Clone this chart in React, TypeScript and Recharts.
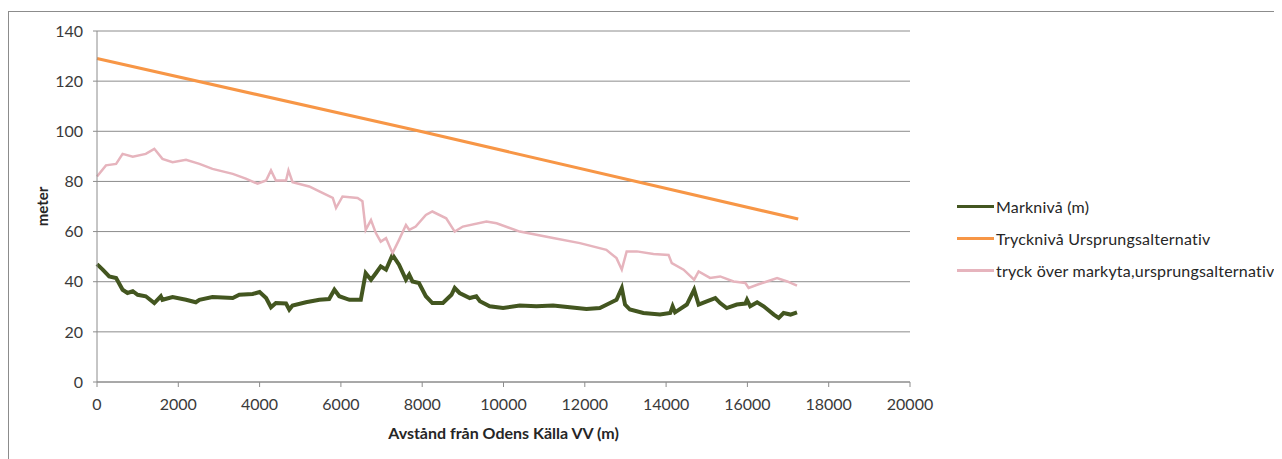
import { LineChart, Line, XAxis, YAxis, CartesianGrid, Legend, Label } from "recharts"

// Marknivå (m)
const groundDist = [0, 140, 300, 470, 630, 750, 880, 1000, 1200, 1410, 1570, 1610, 1860, 2190, 2430, 2520, 2840, 3340, 3500, 3830, 4000, 4160, 4280, 4400, 4650, 4730, 4810, 5140, 5470, 5710, 5840, 5960, 6210, 6490, 6610, 6740, 6860, 6980, 7110, 7270, 7430, 7600, 7680, 7760, 7920, 8090, 8250, 8510, 8720, 8800, 8920, 9170, 9330, 9420, 9660, 9990, 10400, 10810, 11220, 11630, 12040, 12370, 12620, 12780, 12910, 12990, 13110, 13440, 13850, 14100, 14160, 14220, 14510, 14690, 14800, 15000, 15210, 15330, 15490, 15740, 15950, 15990, 16070, 16240, 16400, 16650, 16770, 16890, 17060, 17220]
const groundLevel = [47, 44.8, 42.1, 41.5, 36.8, 35.5, 36.2, 34.8, 34.2, 31.5, 34.2, 32.8, 33.9, 32.8, 31.8, 32.8, 33.9, 33.5, 34.8, 35.1, 35.9, 33.5, 29.8, 31.5, 31.3, 28.9, 30.5, 31.8, 32.8, 33.1, 36.8, 34.2, 32.8, 32.8, 43.4, 40.8, 43.4, 46.1, 44.8, 50.7, 46.8, 40.8, 42.8, 40.1, 39.5, 34.2, 31.5, 31.5, 34.8, 37.5, 35.5, 33.5, 34.2, 32.2, 30.2, 29.5, 30.5, 30.2, 30.5, 29.8, 29.1, 29.5, 31.5, 32.8, 37.5, 30.9, 28.9, 27.5, 26.9, 27.5, 30.2, 27.8, 30.9, 36.8, 30.9, 32.2, 33.5, 31.5, 29.5, 30.9, 31.3, 32.8, 30.2, 31.8, 30.2, 26.9, 25.6, 27.5, 26.9, 27.8]

// Trycknivå Ursprungsalternativ
const pressureDist = [0, 7950, 17250]
const pressureLevel = [129, 100, 65]

// tryck över markyta, ursprungsalternativ
const aboveDist = [0, 220, 470, 630, 880, 1200, 1410, 1610, 1860, 2190, 2520, 2840, 3340, 3660, 3950, 4160, 4280, 4400, 4650, 4710, 4810, 5220, 5470, 5800, 5880, 6040, 6410, 6530, 6610, 6740, 6860, 6980, 7110, 7270, 7430, 7600, 7680, 7840, 8090, 8250, 8590, 8800, 9000, 9580, 9830, 10400, 11220, 11880, 12530, 12780, 12910, 13030, 13280, 13690, 14060, 14140, 14430, 14690, 14800, 15080, 15330, 15660, 15950, 16030, 16240, 16480, 16730, 16980, 17220]
const aboveLevel = [82, 86.4, 87, 91, 89.9, 91, 93, 89, 87.7, 88.6, 87, 85, 83, 81.1, 79.1, 80.4, 84.4, 80.4, 80.4, 84.4, 79.7, 78, 76, 73.4, 69.4, 74, 73.4, 72.1, 60.7, 64.6, 59.4, 56, 57.4, 51.4, 56.7, 62.6, 60.7, 62, 66.6, 68, 65.3, 60, 62, 64, 63.3, 60, 57.4, 55.4, 52.7, 49.4, 44.8, 52.1, 52.1, 51.1, 50.7, 47.4, 44.8, 40.8, 44.1, 41.5, 42.1, 40.1, 39.5, 37.5, 38.8, 40.1, 41.5, 40.1, 38.4]

const xTicks = [0, 2000, 4000, 6000, 8000, 10000, 12000, 14000, 16000, 18000, 20000]
const yTicks = [0, 20, 40, 60, 80, 100, 120, 140]

const toPoints = (xs: number[], ys: number[]) => xs.map((x, i) => ({ x, y: ys[i] }))

const series = [
    { name: "Marknivå (m)", color: "#435620", width: 4, data: toPoints(groundDist, groundLevel) },
    { name: "Trycknivå Ursprungsalternativ", color: "#f79646", width: 3, data: toPoints(pressureDist, pressureLevel) },
    { name: "tryck över markyta,ursprungsalternativ", color: "#e6b4bd", width: 2.5, data: toPoints(aboveDist, aboveLevel) },
]

const font = "Lato, 'Open Sans', sans-serif"
const axisColor = "#8c8c8c"

function LegendBox() {
    return (
        <div style={{ fontFamily: font, fontSize: 16, color: "#262626" }}>
            {series.map((s) => (
                <div key={s.name} style={{ display: "flex", alignItems: "center", height: 32 }}>
                    <span style={{ display: "inline-block", width: 37, height: 3, background: s.color, marginRight: 2 }} />
                    <span style={{ whiteSpace: "nowrap", letterSpacing: 0.2 }}>{s.name}</span>
                </div>
            ))}
        </div>
    )
}

export default function App() {
    return (
        <div
            style={{
                marginTop: 3,
                width: 1273,
                height: 447,
                borderTop: `1px solid ${axisColor}`,
                borderLeft: `1px solid ${axisColor}`,
                background: "#fff",
                overflow: "hidden",
            }}
        >
            <LineChart width={1273} height={447} margin={{ top: 19, right: 42, left: 0, bottom: 17 }}>
                <CartesianGrid horizontal={true} vertical={false} stroke={axisColor} strokeOpacity={1} />
                <XAxis
                    type="number"
                    dataKey="x"
                    domain={[0, 20000]}
                    ticks={xTicks}
                    interval={0}
                    height={60}
                    stroke={axisColor}
                    tickSize={5}
                    tickMargin={12}
                    tick={{ fill: "#3a3a3a", fontSize: 16, fontFamily: font }}
                >
                    <Label
                        value="Avstånd från Odens Källa VV (m)"
                        position="center"
                        dy={21}
                        style={{ fontFamily: font, fontSize: 16, fontWeight: "bold", fill: "#262626" }}
                    />
                </XAxis>
                <YAxis
                    type="number"
                    domain={[0, 140]}
                    ticks={yTicks}
                    interval={0}
                    width={88}
                    stroke={axisColor}
                    tickSize={4}
                    tickMargin={10}
                    tick={{ fill: "#3a3a3a", fontSize: 16, fontFamily: font }}
                >
                    <Label
                        value="meter"
                        angle={-90}
                        position="center"
                        dx={-10}
                        style={{ fontFamily: font, fontSize: 15, fontWeight: "bold", fill: "#262626", textAnchor: "middle" }}
                    />
                </YAxis>
                <Legend
                    layout="vertical"
                    align="right"
                    verticalAlign="middle"
                    content={() => <LegendBox />}
                    wrapperStyle={{ width: 330, left: 948, top: 178 }}
                />
                {series.map((s) => (
                    <Line
                        key={s.name}
                        data={s.data}
                        dataKey="y"
                        name={s.name}
                        type="linear"
                        stroke={s.color}
                        strokeWidth={s.width}
                        dot={false}
                        activeDot={false}
                        isAnimationActive={false}
                    />
                ))}
            </LineChart>
        </div>
    )
}
